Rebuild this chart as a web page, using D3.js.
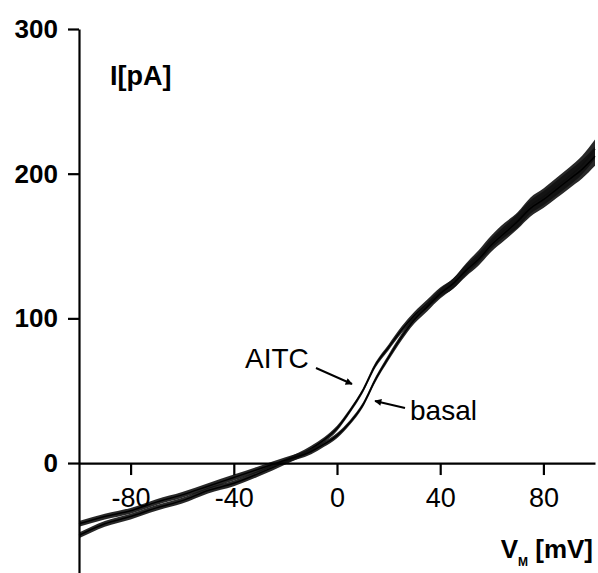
<!DOCTYPE html>
<html>
<head>
<meta charset="utf-8">
<script src="https://cdn.jsdelivr.net/npm/d3@7"></script>
<style>
  body { margin: 0; background: #fff; }
  svg { display: block; font-family: Arial, "Liberation Sans", sans-serif; }
</style>
</head>
<body>
<div id="chart"></div>
<script>
// Membrane voltage (mV) and current (pA)
const voltage = [-100, -90, -80, -70, -60, -50, -40, -30, -20, -10, -5, 0, 5, 10, 15, 20, 25, 30, 35, 40, 45, 50, 55, 60, 65, 70, 75, 80, 85, 90, 95, 100];
const aitcCurrent = [-50, -42, -37, -31, -26, -19, -14, -7, 1, 10, 16, 24, 36, 50, 68, 80, 92, 102, 110, 118, 124, 134, 143, 153, 161, 168, 178, 184, 191, 198, 206, 217];
const basalCurrent = [-42, -37, -33, -27, -22, -16, -10, -4, 2, 8, 13, 19, 28, 40, 58, 73, 87, 99, 108, 117, 124, 133, 141, 151, 159, 167, 176, 182, 189, 196, 203, 212];
// half width of the noise band (pA)
const noiseBand = [2, 2, 2, 2, 2, 2, 2, 2, 2, 2, 1.8, 1.8, 1.6, 1.6, 1.8, 2, 2.3, 2.6, 3, 3.3, 3.6, 4, 4.3, 4.6, 5, 5.3, 5.6, 5.8, 6, 6.2, 6.4, 6.6];

const xTicks = [-80, -40, 0, 40, 80];
const yTicks = [0, 100, 200, 300];

const width = 598, height = 573;

const svg = d3.select("#chart")
    .append("svg")
    .attr("width", width)
    .attr("height", height);

// Scales
const xScale = d3.scaleLinear().domain([-100, 100]).range([79, 595]);
const yScale = d3.scaleLinear().domain([-76, 300]).range([573, 29]);

// Traces
const series = [
    { name: "AITC", values: aitcCurrent },
    { name: "basal", values: basalCurrent }
];

const area = d3.area()
    .x((d, i) => xScale(voltage[i]))
    .y0((d, i) => yScale(d - noiseBand[i]))
    .y1((d, i) => yScale(d + noiseBand[i]))
    .curve(d3.curveMonotoneX);

const line = d3.line()
    .x((d, i) => xScale(voltage[i]))
    .y(d => yScale(d))
    .curve(d3.curveMonotoneX);

series.forEach(s => {
    svg.append("path")
        .datum(s.values)
        .attr("d", area)
        .attr("fill", "#111")
        .attr("opacity", 0.9);
    svg.append("path")
        .datum(s.values)
        .attr("d", line)
        .attr("fill", "none")
        .attr("stroke", "#000")
        .attr("stroke-width", 1.5);
});

// Axes
const yAxis = svg.append("g")
    .attr("transform", `translate(${xScale(-100)},0)`)
    .call(d3.axisLeft(yScale).tickValues(yTicks).tickSize(11).tickSizeOuter(0).tickPadding(10));

yAxis.select(".domain").attr("stroke-width", 2.2);
yAxis.selectAll(".tick line").attr("stroke-width", 2.2);
yAxis.selectAll(".tick text")
    .attr("font-size", 26)
    .attr("font-weight", "bold")
    .attr("font-family", "Arial, 'Liberation Sans', sans-serif")
    .attr("fill", "#000");

const xAxis = svg.append("g")
    .attr("transform", `translate(0,${yScale(0)})`)
    .call(d3.axisBottom(xScale).tickValues(xTicks).tickSize(12).tickSizeOuter(0).tickFormat(d => d < 0 ? "-" + Math.abs(d) : d));

xAxis.select(".domain").attr("stroke-width", 2.2);
xAxis.selectAll(".tick line").attr("stroke-width", 2.2);
xAxis.selectAll(".tick text")
    .attr("y", 44)
    .attr("dy", 0)
    .attr("font-size", 27)
    .attr("font-family", "Arial, 'Liberation Sans', sans-serif")
    .attr("fill", "#000");

// Axis titles
svg.append("text")
    .attr("x", 110)
    .attr("y", 85)
    .attr("font-size", 27)
    .attr("font-weight", "bold")
    .text("I[pA]");

const vLabel = svg.append("text")
    .attr("x", 593)
    .attr("y", 558)
    .attr("text-anchor", "end")
    .attr("font-size", 26)
    .attr("font-weight", "bold");
vLabel.append("tspan").text("V");
vLabel.append("tspan").attr("font-size", 12).attr("dy", 8).text("M");
vLabel.append("tspan").attr("dy", -8).text(" [mV]");

// Annotations
svg.append("defs").append("marker")
    .attr("id", "head")
    .attr("viewBox", "0 0 10 10")
    .attr("refX", 9)
    .attr("refY", 5)
    .attr("markerWidth", 9)
    .attr("markerHeight", 7)
    .attr("markerUnits", "userSpaceOnUse")
    .attr("orient", "auto")
    .append("path")
    .attr("d", "M0,0L10,5L0,10z")
    .attr("fill", "#000");

const notes = [
    { text: "AITC", tx: 245, ty: 368, x1: 316, y1: 368, x2: 352, y2: 384 },
    { text: "basal", tx: 410, ty: 420, x1: 405, y1: 408, x2: 375, y2: 401 }
];

notes.forEach(n => {
    svg.append("text")
        .attr("x", n.tx)
        .attr("y", n.ty)
        .attr("font-size", 28)
        .text(n.text);
    svg.append("line")
        .attr("x1", n.x1).attr("y1", n.y1)
        .attr("x2", n.x2).attr("y2", n.y2)
        .attr("stroke", "#000")
        .attr("stroke-width", 2)
        .attr("marker-end", "url(#head)");
});
</script>
</body>
</html>
